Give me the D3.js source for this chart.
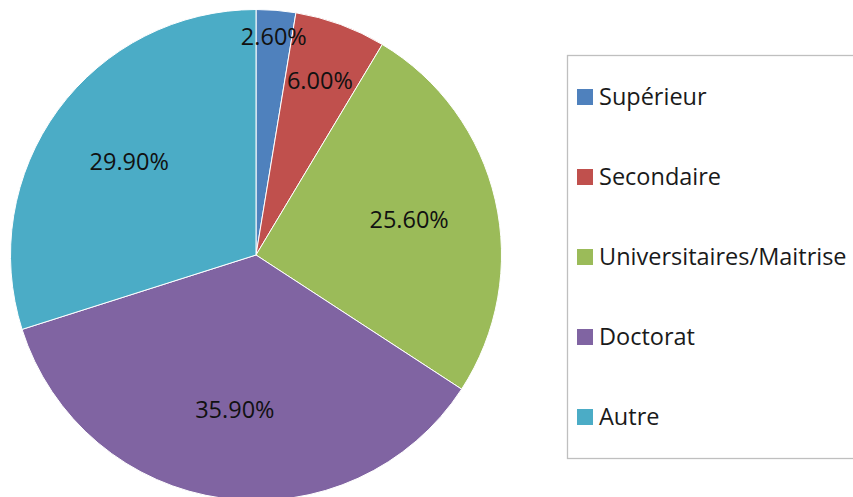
<!DOCTYPE html>
<html><head><meta charset="utf-8">
<script src="https://cdn.jsdelivr.net/npm/d3@7"></script>
<style>html,body{margin:0;padding:0;background:#fff;}svg{display:block;}</style>
</head><body>
<svg id="chart" width="853" height="497"></svg>
<script>
const categories = ["Supérieur", "Secondaire", "Universitaires/Maitrise", "Doctorat", "Autre"];
const values = [2.6, 6.0, 25.6, 35.9, 29.9];
const labels = ["2.60%", "6.00%", "25.60%", "35.90%", "29.90%"];
const colors = ["#4F81BD", "#C0504D", "#9BBB59", "#8064A2", "#4BACC6"];

const svg = d3.select("#chart");
const cx = 256, cy = 255, R = 245.5;
const font = "'Open Sans', sans-serif";

const pie = d3.pie().value(d => d).sort(null);
const arcs = pie(values);
const arc = d3.arc().innerRadius(0).outerRadius(R);
const color = d3.scaleOrdinal().domain(categories).range(colors);

const g = svg.append("g").attr("transform", `translate(${cx},${cy})`);
g.selectAll("path.slice").data(arcs).enter().append("path")
  .attr("class", "slice")
  .attr("d", arc)
  .attr("fill", (d, i) => color(categories[i]))
  .attr("stroke", "#fff")
  .attr("stroke-width", 1);

const total = d3.sum(values);
function labelRadius(v) {
  const f = v / total;
  if (f < 0.04) return R * 0.89;
  if (f < 0.1) return R * 0.755;
  return R * 0.64;
}
g.selectAll("text.lbl").data(arcs).enter().append("text")
  .attr("class", "lbl")
  .attr("transform", d => {
    const r = labelRadius(d.value);
    const c = d3.arc().innerRadius(r).outerRadius(r).centroid(d);
    return `translate(${c[0]},${c[1]})`;
  })
  .attr("text-anchor", "middle")
  .attr("dy", "0.33em")
  .attr("font-family", font)
  .attr("font-size", 23.5)
  .attr("fill", "#111")
  .text((d, i) => labels[i]);

// Legend
const lx = 567.5, ly = 55.5, lw = 300, lh = 403;
svg.append("rect").attr("x", lx).attr("y", ly).attr("width", lw).attr("height", lh)
  .attr("fill", "#fff").attr("stroke", "#BFBFBF").attr("stroke-width", 1.3);

const ls = d3.scalePoint().domain(categories).range([97, 417]);
const items = svg.append("g").selectAll("g.item").data(categories).enter().append("g")
  .attr("class", "item")
  .attr("transform", d => `translate(577,${ls(d)})`);
items.append("rect").attr("x", 0).attr("y", -8).attr("width", 16).attr("height", 16)
  .attr("fill", d => color(d));
items.append("text").attr("x", 22).attr("y", 0)
  .attr("dy", "0.35em")
  .attr("font-family", font).attr("font-size", 23.5)
  .attr("fill", "#1a1a1a")
  .text(d => d);
</script>
</body></html>
